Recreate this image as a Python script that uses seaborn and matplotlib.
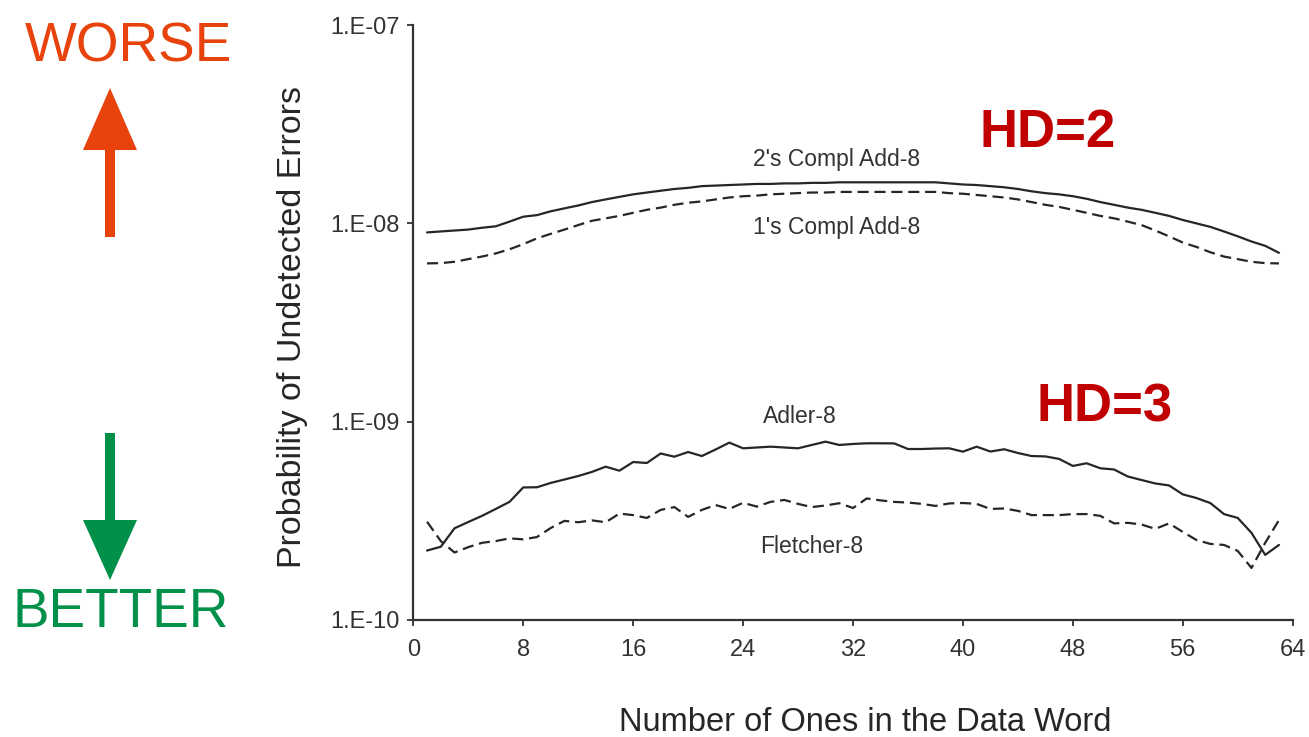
import matplotlib
matplotlib.use("Agg")
import matplotlib.pyplot as plt
import seaborn as sns
import pandas as pd
from matplotlib.patches import Polygon
from matplotlib.ticker import FixedLocator, NullLocator

# ---------------- data ----------------
ones = list(range(1, 64))

twos_compl_add8 = [
    9.0e-9, 9.1e-9, 9.2e-9, 9.3e-9, 9.5e-9, 9.66e-9, 1.02e-8, 1.08e-8, 1.10e-8, 1.15e-8,
    1.19e-8, 1.23e-8, 1.28e-8, 1.32e-8, 1.36e-8, 1.40e-8, 1.43e-8, 1.46e-8, 1.49e-8, 1.51e-8,
    1.54e-8, 1.55e-8, 1.56e-8, 1.57e-8, 1.58e-8, 1.58e-8, 1.59e-8, 1.59e-8, 1.60e-8, 1.60e-8,
    1.61e-8, 1.61e-8, 1.61e-8, 1.61e-8, 1.61e-8, 1.61e-8, 1.61e-8, 1.61e-8, 1.59e-8, 1.57e-8,
    1.56e-8, 1.54e-8, 1.52e-8, 1.49e-8, 1.45e-8, 1.42e-8, 1.40e-8, 1.37e-8, 1.33e-8, 1.28e-8,
    1.24e-8, 1.20e-8, 1.17e-8, 1.13e-8, 1.09e-8, 1.04e-8, 9.99e-9, 9.6e-9, 9.1e-9, 8.6e-9,
    8.1e-9, 7.7e-9, 7.1e-9,
]

ones_compl_add8 = [
    6.28e-9, 6.3e-9, 6.4e-9, 6.6e-9, 6.8e-9, 7.05e-9, 7.4e-9, 7.85e-9, 8.4e-9, 8.85e-9,
    9.3e-9, 9.8e-9, 1.03e-8, 1.06e-8, 1.09e-8, 1.13e-8, 1.17e-8, 1.20e-8, 1.24e-8, 1.27e-8,
    1.29e-8, 1.32e-8, 1.35e-8, 1.37e-8, 1.38e-8, 1.40e-8, 1.41e-8, 1.42e-8, 1.43e-8, 1.43e-8,
    1.44e-8, 1.44e-8, 1.44e-8, 1.44e-8, 1.44e-8, 1.44e-8, 1.44e-8, 1.44e-8, 1.42e-8, 1.41e-8,
    1.39e-8, 1.37e-8, 1.35e-8, 1.32e-8, 1.28e-8, 1.24e-8, 1.21e-8, 1.17e-8, 1.13e-8, 1.09e-8,
    1.06e-8, 1.02e-8, 9.8e-9, 9.2e-9, 8.6e-9, 8.0e-9, 7.6e-9, 7.15e-9, 6.8e-9, 6.6e-9,
    6.4e-9, 6.3e-9, 6.28e-9,
]

adler8 = [
    2.24e-10, 2.34e-10, 2.90e-10, 3.12e-10, 3.35e-10, 3.63e-10, 3.94e-10, 4.66e-10, 4.67e-10, 4.91e-10,
    5.11e-10, 5.32e-10, 5.58e-10, 5.93e-10, 5.66e-10, 6.26e-10, 6.19e-10, 6.91e-10, 6.66e-10, 7.03e-10,
    6.71e-10, 7.24e-10, 7.84e-10, 7.34e-10, 7.41e-10, 7.48e-10, 7.41e-10, 7.34e-10, 7.63e-10, 7.93e-10,
    7.63e-10, 7.72e-10, 7.78e-10, 7.78e-10, 7.77e-10, 7.28e-10, 7.28e-10, 7.32e-10, 7.34e-10, 7.06e-10,
    7.48e-10, 7.07e-10, 7.26e-10, 6.95e-10, 6.71e-10, 6.68e-10, 6.49e-10, 5.98e-10, 6.17e-10, 5.82e-10,
    5.74e-10, 5.29e-10, 5.08e-10, 4.88e-10, 4.77e-10, 4.30e-10, 4.12e-10, 3.89e-10, 3.42e-10, 3.27e-10,
    2.75e-10, 2.13e-10, 2.39e-10,
]

fletcher8 = [
    3.13e-10, 2.50e-10, 2.19e-10, 2.33e-10, 2.45e-10, 2.50e-10, 2.58e-10, 2.55e-10, 2.62e-10, 2.91e-10,
    3.16e-10, 3.11e-10, 3.18e-10, 3.11e-10, 3.44e-10, 3.38e-10, 3.27e-10, 3.59e-10, 3.71e-10, 3.31e-10,
    3.59e-10, 3.80e-10, 3.63e-10, 3.90e-10, 3.73e-10, 3.94e-10, 4.03e-10, 3.85e-10, 3.71e-10, 3.78e-10,
    3.88e-10, 3.67e-10, 4.10e-10, 4.01e-10, 3.94e-10, 3.91e-10, 3.85e-10, 3.76e-10, 3.87e-10, 3.89e-10,
    3.85e-10, 3.63e-10, 3.65e-10, 3.55e-10, 3.38e-10, 3.38e-10, 3.38e-10, 3.42e-10, 3.42e-10, 3.35e-10,
    3.07e-10, 3.09e-10, 3.03e-10, 2.88e-10, 3.07e-10, 2.78e-10, 2.53e-10, 2.42e-10, 2.39e-10, 2.23e-10,
    1.83e-10, 2.45e-10, 3.19e-10,
]

x_ticks = [0, 8, 16, 24, 32, 40, 48, 56, 64]
y_ticks = [1e-10, 1e-9, 1e-8, 1e-7]
y_tick_labels = ["1.E-10", "1.E-09", "1.E-08", "1.E-07"]

series_names = ["2's Compl Add-8", "1's Compl Add-8", "Adler-8", "Fletcher-8"]
series_values = [twos_compl_add8, ones_compl_add8, adler8, fletcher8]
series_dashed = [False, True, False, True]

# ---------------- style ----------------
sns.set_theme(style="white")
plt.rcParams["font.family"] = ["Liberation Sans", "DejaVu Sans"]

W, H = 1309, 737
fig = plt.figure(figsize=(W / 100, H / 100), dpi=100)
ax = fig.add_axes([413.3 / W, (H - 620) / H, (1292.7 - 413.3) / W, (620 - 25) / H])
ax.set_facecolor("none")

line_color = "#262626"
for name, vals, dashed in zip(series_names, series_values, series_dashed):
    df = pd.DataFrame({"ones": ones, "p": vals})
    kw = dict(linestyle=(0, (5, 2.6))) if dashed else {}
    sns.lineplot(data=df, x="ones", y="p", ax=ax, color=line_color, lw=1.6, **kw)

ax.set_yscale("log")
ax.set_xlim(0, 64)
ax.set_ylim(1e-10, 1e-7)
ax.xaxis.set_major_locator(FixedLocator(x_ticks))
ax.set_xticklabels([str(t) for t in x_ticks])
ax.yaxis.set_major_locator(FixedLocator(y_ticks))
ax.yaxis.set_minor_locator(NullLocator())
ax.set_yticklabels(y_tick_labels)

for s in ["top", "right"]:
    ax.spines[s].set_visible(False)
for s in ["left", "bottom"]:
    ax.spines[s].set_color("#333333")
    ax.spines[s].set_linewidth(1.6)

ax.tick_params(axis="both", which="major", direction="out", length=4, width=1.3,
               color="#333333", labelcolor="#333333", labelsize=17,
               bottom=True, left=True, top=False, right=False)
ax.tick_params(axis="y", pad=6)
ax.tick_params(axis="x", pad=10)
ax.tick_params(which="minor", length=0)

ax.set_xlabel("Number of Ones in the Data Word", fontsize=23.5, color="#262626")
ax.set_ylabel("Probability of Undetected Errors", fontsize=24.5, color="#262626")
ax.xaxis.set_label_coords(0.5137, -0.147)
ax.yaxis.set_label_coords(-0.12, 0.492)

# curve labels
lab_kw = dict(fontsize=16.5, color="#333333", ha="center", va="center")
ax.text(30.8, 2.09e-8, "2's Compl Add-8", **lab_kw)
ax.text(30.8, 9.5e-9, "1's Compl Add-8", **lab_kw)
ax.text(28.1, 1.06e-9, "Adler-8", **lab_kw)
ax.text(29.0, 2.36e-10, "Fletcher-8", **lab_kw)

# HD annotations
hd_kw = dict(fontsize=38, color="#C00000", fontweight="bold", ha="center", va="center")
ax.text(46.2, 10 ** (-10 + (620 - 133) / 198.3), "HD=2", **hd_kw)
ax.text(50.3, 10 ** (-10 + (620 - 408) / 198.3), "HD=3", **hd_kw)

# overlay for the worse / better indicators (pixel coordinates)
ov = fig.add_axes([0, 0, 1, 1])
ov.set_xlim(0, W)
ov.set_ylim(H, 0)
ov.axis("off")

orange = "#E8430D"
green = "#00904A"
ov.add_patch(Polygon([(105, 237), (115, 237), (115, 150), (137, 150), (110, 88),
                      (83, 150), (105, 150)], closed=True, color=orange, lw=0))
ov.add_patch(Polygon([(105, 433), (115, 433), (115, 520), (137, 520), (110, 580),
                      (83, 520), (105, 520)], closed=True, color=green, lw=0))
ov.text(128, 47, "WORSE", fontsize=39.5, color=orange, ha="center", va="center")
ov.text(121, 613, "BETTER", fontsize=39.5, color=green, ha="center", va="center")

fig.savefig("out.png", dpi=100)
